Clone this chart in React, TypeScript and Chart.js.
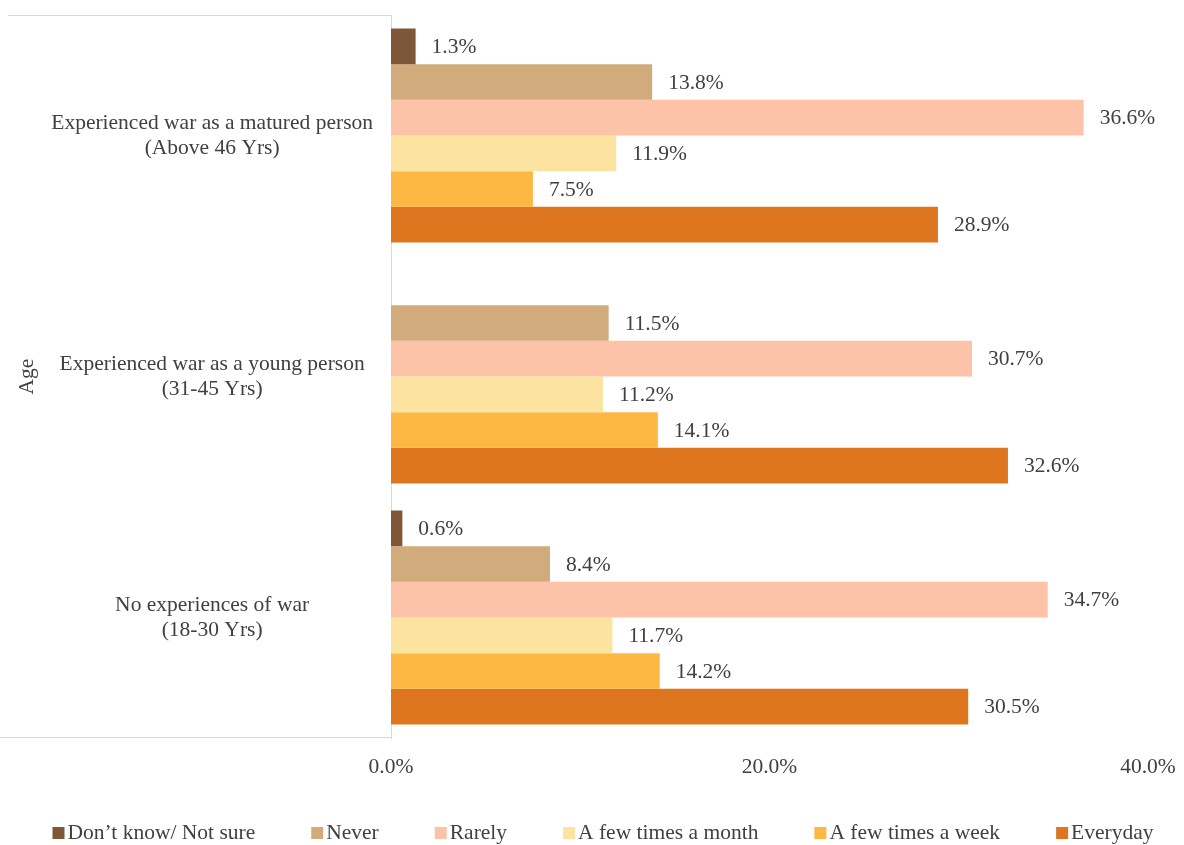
import React, { useEffect, useRef } from "react";
import { Chart, registerables } from "chart.js";

Chart.register(...registerables);

const categories: string[][] = [
  ["Experienced war as a matured person", "(Above 46 Yrs)"],
  ["Experienced war as a young person", "(31-45 Yrs)"],
  ["No experiences of war", "(18-30 Yrs)"],
];

const seriesNames = [
  "Don\u2019t know/ Not sure",
  "Never",
  "Rarely",
  "A few times a month",
  "A few times a week",
  "Everyday",
];

const dontKnow: (number | null)[] = [1.3, null, 0.6];
const never: (number | null)[] = [13.8, 11.5, 8.4];
const rarely: (number | null)[] = [36.6, 30.7, 34.7];
const fewMonth: (number | null)[] = [11.9, 11.2, 11.7];
const fewWeek: (number | null)[] = [7.5, 14.1, 14.2];
const everyday: (number | null)[] = [28.9, 32.6, 30.5];

const seriesColors = ["#7E5638", "#D1AB7C", "#FDC3A9", "#FCE3A0", "#FDB843", "#DE751F"];

const xTicks = [0, 20, 40];

const FONT = '"Liberation Serif", "Times New Roman", serif';
const TEXT = "#404040";
const FS = 21.5;

const labelPlugin = {
  id: "barLabels",
  afterDatasetsDraw(chart: any) {
    const ctx = chart.ctx;
    ctx.save();
    ctx.font = `${FS}px ${FONT}`;
    ctx.fillStyle = TEXT;
    ctx.textBaseline = "middle";
    ctx.textAlign = "left";
    chart.data.datasets.forEach((ds: any, i: number) => {
      const meta = chart.getDatasetMeta(i);
      meta.data.forEach((el: any, j: number) => {
        const v = ds.data[j];
        if (v == null || v === 0) return;
        ctx.fillText(`${v.toFixed(1)}%`, el.x + 16, el.y + 1);
      });
    });
    ctx.restore();
  },
};

const framePlugin = {
  id: "frameLines",
  afterDraw(chart: any) {
    const { ctx, chartArea } = chart;
    ctx.save();
    ctx.strokeStyle = "#D9D9D9";
    ctx.lineWidth = 1;
    ctx.beginPath();
    ctx.moveTo(8, chartArea.top + 0.5);
    ctx.lineTo(chartArea.left, chartArea.top + 0.5);
    ctx.moveTo(0, chartArea.bottom - 0.5);
    ctx.lineTo(chartArea.left, chartArea.bottom - 0.5);
    ctx.stroke();
    ctx.restore();
  },
};

// Legend drawn from the chart's own datasets (labels + colours)
const legendPlugin = {
  id: "bottomLegend",
  afterDraw(chart: any) {
    const ctx = chart.ctx;
    const box = 12;
    const gap = 3;
    const spacing = 56;
    const centerX = 603;
    const y = 833;
    ctx.save();
    ctx.font = `${FS}px ${FONT}`;
    ctx.textBaseline = "middle";
    ctx.textAlign = "left";
    const items = chart.data.datasets.map((ds: any) => ({
      text: ds.label as string,
      color: ds.backgroundColor as string,
      w: ctx.measureText(ds.label).width,
    }));
    const total =
      items.reduce((s: number, it: any) => s + box + gap + it.w, 0) + spacing * (items.length - 1);
    let x = centerX - total / 2;
    items.forEach((it: any) => {
      ctx.fillStyle = it.color;
      ctx.fillRect(x, y - box / 2, box, box);
      ctx.fillStyle = TEXT;
      ctx.fillText(it.text, x + box + gap, y);
      x += box + gap + it.w + spacing;
    });
    ctx.restore();
  },
};

export default function App() {
  const ref = useRef<HTMLCanvasElement>(null);
  useEffect(() => {
    if (!ref.current) return;
    const allSeries = [dontKnow, never, rarely, fewMonth, fewWeek, everyday];
    const chart = new Chart(ref.current, {
      type: "bar",
      data: {
        labels: categories,
        datasets: allSeries.map((d, i) => ({
          label: seriesNames[i],
          data: d,
          backgroundColor: seriesColors[i],
          borderWidth: 0,
          categoryPercentage: 0.888,
          barPercentage: 1,
        })),
      },
      options: {
        indexAxis: "y",
        responsive: false,
        animation: false,
        layout: { padding: { top: 15, right: 36, left: 0, bottom: 57 } },
        plugins: {
          tooltip: { enabled: false },
          legend: { display: false },
        },
        scales: {
          x: {
            min: 0,
            max: 40,
            afterBuildTicks(scale: any) {
              scale.ticks = xTicks.map((v) => ({ value: v }));
            },
            afterFit(scale: any) {
              scale.height = 50;
              scale.paddingRight = 0;
              scale.paddingLeft = 0;
            },
            grid: { display: false, drawTicks: false },
            border: { display: false },
            ticks: {
              font: { family: FONT, size: FS },
              color: TEXT,
              padding: 16,
              callback: (v: any) => `${Number(v).toFixed(1)}%`,
            },
          },
          y: {
            afterFit(scale: any) {
              scale.width = 391;
              scale.paddingTop = 0;
              scale.paddingBottom = 0;
            },
            grid: { display: false, drawTicks: false },
            border: { display: true, color: "#D9D9D9", width: 1 },
            ticks: {
              font: { family: FONT, size: FS, lineHeight: 1.15 },
              color: TEXT,
              padding: 18,
              crossAlign: "center",
            },
            title: {
              display: true,
              text: "Age",
              font: { family: FONT, size: FS },
              color: TEXT,
              padding: { top: 14, bottom: 0 },
            },
          },
        },
      },
      plugins: [labelPlugin, framePlugin, legendPlugin],
    });
    return () => chart.destroy();
  }, []);
  return (
    <div style={{ position: "absolute", left: 0, top: 0, width: 1184, height: 845, background: "#fff" }}>
      <canvas ref={ref} width={1184} height={845} />
    </div>
  );
}
